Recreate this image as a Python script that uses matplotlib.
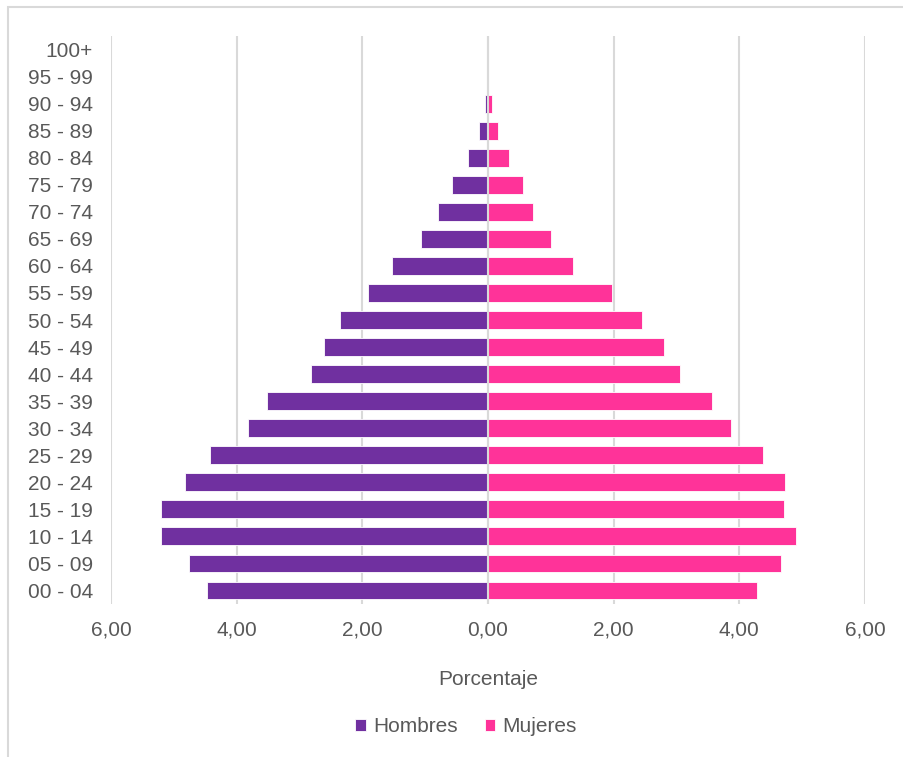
import matplotlib
matplotlib.use('Agg')
import matplotlib.pyplot as plt
from matplotlib.patches import Rectangle

# grupos de edad, de abajo hacia arriba
edades = ['00 - 04', '05 - 09', '10 - 14', '15 - 19', '20 - 24', '25 - 29', '30 - 34',
          '35 - 39', '40 - 44', '45 - 49', '50 - 54', '55 - 59', '60 - 64', '65 - 69',
          '70 - 74', '75 - 79', '80 - 84', '85 - 89', '90 - 94', '95 - 99', '100+']
hombres = [4.48, 4.76, 5.20, 5.21, 4.82, 4.43, 3.82, 3.52, 2.82, 2.61, 2.36, 1.91,
           1.52, 1.07, 0.79, 0.57, 0.32, 0.15, 0.05, 0.0, 0.0]
mujeres = [4.28, 4.67, 4.90, 4.71, 4.73, 4.38, 3.87, 3.57, 3.06, 2.80, 2.45, 1.97,
           1.36, 1.01, 0.72, 0.55, 0.34, 0.16, 0.07, 0.0, 0.0]
xticks = [-6, -4, -2, 0, 2, 4, 6]

plt.rcParams['font.family'] = ['Liberation Sans', 'DejaVu Sans']
gris = '#595959'
grid = '#D9D9D9'

fig = plt.figure(figsize=(9.04, 7.57), dpi=100)
# marco del grafico (cortado a la derecha y abajo)
fig.patches.append(Rectangle((8 / 904, -0.05), 1.2, 1 - 7 / 757 + 0.05, transform=fig.transFigure,
                             fill=False, edgecolor=grid, lw=1.5))
ax = fig.add_axes([111 / 904, 1 - 604 / 757, (865 - 111) / 904, (604 - 36) / 757])

y = range(len(edades))
ax.barh(y, [-v for v in hombres], height=0.66, color='#7030A0', edgecolor='white', lw=0.6,
        label='Hombres', zorder=2)
ax.barh(y, mujeres, height=0.66, color='#FF3399', edgecolor='white', lw=0.6,
        label='Mujeres', zorder=2)
ax.axvline(0, color=grid, lw=1.5, zorder=3)

ax.set_xlim(-6, 6); ax.set_ylim(-0.5, len(edades) - 0.5)
ax.set_xticks(xticks)
ax.set_xticklabels([f'{abs(t):.2f}'.replace('.', ',') for t in xticks])
ax.set_yticks(list(y)); ax.set_yticklabels(edades)
ax.tick_params(axis='both', length=0, labelsize=15, labelcolor=gris)
ax.tick_params(axis='x', pad=12); ax.tick_params(axis='y', pad=13)
ax.grid(axis='x', color=grid, lw=1.5, zorder=0); ax.set_axisbelow(True)
for s in ax.spines.values(): s.set_visible(False)

ax.set_xlabel('Porcentaje', fontsize=15, color=gris, labelpad=22)
fig.legend(loc='center', bbox_to_anchor=(466 / 904, 1 - 727 / 757), ncol=2, frameon=False,
           fontsize=15, labelcolor=gris, handlelength=0.5, handleheight=0.5,
           handletextpad=0.35, columnspacing=1.3)

fig.savefig('out.png', dpi=100)
plt.close(fig)
